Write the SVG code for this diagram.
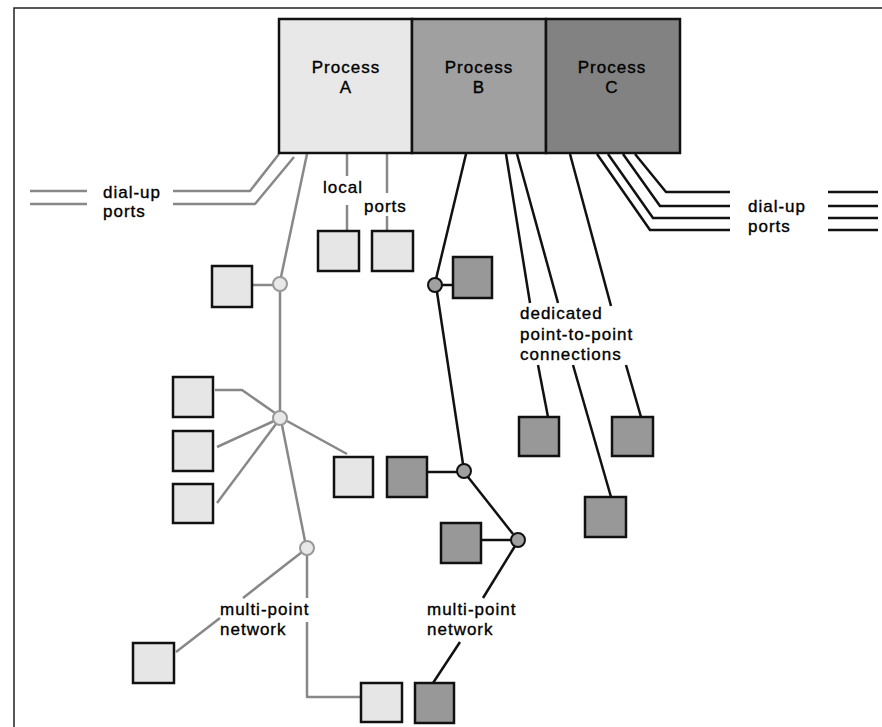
<svg xmlns="http://www.w3.org/2000/svg" width="882" height="727" viewBox="0 0 882 727">
<style>
text{font-family:"Liberation Sans",Arial,sans-serif;font-size:17px;letter-spacing:1px;fill:#000;stroke:#000;stroke-width:0.35}
.ctr{text-anchor:middle}
.proc{stroke:#111;stroke-width:2.5}
.pa{fill:#e8e8e8}
.pb{fill:#a0a0a0}
.pc{fill:#828282}
.lt{fill:#e6e6e6;stroke:#111;stroke-width:2.5}
.dk{fill:#989898;stroke:#111;stroke-width:2.5}
.ga{fill:none;stroke:#888;stroke-width:2.5;stroke-linejoin:round}
.bk{fill:none;stroke:#111;stroke-width:2.5;stroke-linejoin:round}
.hl{fill:#e8e8e8;stroke:#999;stroke-width:2}
.hd{fill:#a0a0a0;stroke:#111;stroke-width:2}
.frame{fill:none;stroke:#222;stroke-width:1.5}
</style>
<g id="frame">
<polyline class="frame" points="14,727 14,8 882,8"/>
</g>
<g id="connectors">
<polyline class="ga" points="279,154 250,191 173,191"/>
<polyline class="ga" points="294,157 255,204 173,204"/>
<line class="ga" x1="30" y1="191" x2="87" y2="191"/>
<line class="ga" x1="30" y1="204" x2="87" y2="204"/>
<line class="ga" x1="347" y1="154" x2="347" y2="176"/>
<line class="ga" x1="347" y1="205" x2="347" y2="231"/>
<line class="ga" x1="387" y1="154" x2="387" y2="193"/>
<line class="ga" x1="387" y1="216" x2="387" y2="231"/>
<line class="ga" x1="307" y1="154" x2="281" y2="277"/>
<line class="ga" x1="253" y1="285" x2="273" y2="285"/>
<line class="ga" x1="280" y1="291" x2="280" y2="411"/>
<polyline class="ga" points="215,390 242,390 275,413"/>
<line class="ga" x1="217" y1="447" x2="274" y2="421"/>
<line class="ga" x1="217" y1="503" x2="276" y2="424"/>
<line class="ga" x1="287" y1="421" x2="347" y2="454"/>
<line class="ga" x1="282" y1="425" x2="305" y2="541"/>
<line class="ga" x1="302" y1="552" x2="243" y2="598"/>
<line class="ga" x1="220" y1="618" x2="176" y2="652"/>
<line class="ga" x1="307" y1="555" x2="307" y2="598"/>
<polyline class="ga" points="307,622 307,697 361,697"/>
<line class="bk" x1="466" y1="154" x2="436" y2="279"/>
<line class="bk" x1="440" y1="285" x2="452" y2="285"/>
<line class="bk" x1="437" y1="292" x2="463" y2="464"/>
<line class="bk" x1="427" y1="472" x2="457" y2="472"/>
<line class="bk" x1="468" y1="477" x2="513" y2="534"/>
<line class="bk" x1="481" y1="540" x2="511" y2="540"/>
<line class="bk" x1="515" y1="546" x2="483" y2="598"/>
<line class="bk" x1="460" y1="642" x2="433" y2="683"/>
<line class="bk" x1="506" y1="154" x2="530" y2="303"/>
<line class="bk" x1="517" y1="154" x2="558" y2="303"/>
<line class="bk" x1="570" y1="154" x2="611" y2="306"/>
<line class="bk" x1="538" y1="365" x2="548" y2="417"/>
<line class="bk" x1="573" y1="365" x2="611" y2="497"/>
<line class="bk" x1="626" y1="365" x2="641" y2="417"/>
<polyline class="bk" points="597,154 650,230 730,230"/>
<polyline class="bk" points="608,154 653,218 730,218"/>
<polyline class="bk" points="623,154 660,206 730,206"/>
<polyline class="bk" points="635,154 666,192 730,192"/>
<line class="bk" x1="828" y1="192" x2="878" y2="192"/>
<line class="bk" x1="828" y1="206" x2="878" y2="206"/>
<line class="bk" x1="828" y1="218" x2="878" y2="218"/>
<line class="bk" x1="828" y1="230" x2="878" y2="230"/>
</g>
<g id="processA">
<rect class="proc pa" x="279" y="19" width="133" height="134"/>
<text class="ctr" x="346" y="73">Process</text>
<text class="ctr" x="346" y="93">A</text>
</g>
<g id="processB">
<rect class="proc pb" x="412" y="19" width="134" height="134"/>
<text class="ctr" x="479" y="73">Process</text>
<text class="ctr" x="479" y="93">B</text>
</g>
<g id="processC">
<rect class="proc pc" x="546" y="19" width="134" height="134"/>
<text class="ctr" x="612" y="73">Process</text>
<text class="ctr" x="612" y="93">C</text>
</g>
<g id="labels">
<text x="103" y="198">dial-up</text>
<text x="103" y="217">ports</text>
<text x="323" y="193">local</text>
<text x="364" y="212">ports</text>
<text x="748" y="212">dial-up</text>
<text x="748" y="232">ports</text>
<text x="520" y="319">dedicated</text>
<text x="520" y="340">point-to-point</text>
<text x="520" y="360">connections</text>
<text x="220" y="615">multi-point</text>
<text x="220" y="635">network</text>
<text x="427" y="615">multi-point</text>
<text x="427" y="635">network</text>
</g>
<g id="local1"><rect class="lt" x="318" y="231" width="41" height="40"/></g>
<g id="local2"><rect class="lt" x="372" y="231" width="41" height="40"/></g>
<g id="a-hub1"><circle class="hl" cx="280" cy="284" r="7"/></g>
<g id="a-t1"><rect class="lt" x="212" y="266" width="40" height="41"/></g>
<g id="a-hub2"><circle class="hl" cx="280" cy="418" r="7"/></g>
<g id="a-t2"><rect class="lt" x="173" y="377" width="40" height="40"/></g>
<g id="a-t3"><rect class="lt" x="173" y="431" width="40" height="40"/></g>
<g id="a-t4"><rect class="lt" x="173" y="484" width="40" height="39"/></g>
<g id="a-t5"><rect class="lt" x="334" y="457" width="39" height="40"/></g>
<g id="a-hub3"><circle class="hl" cx="307" cy="548" r="7"/></g>
<g id="a-t6"><rect class="lt" x="133" y="643" width="41" height="40"/></g>
<g id="a-t7"><rect class="lt" x="361" y="683" width="41" height="39"/></g>
<g id="b-hub1"><circle class="hd" cx="435" cy="285" r="7"/></g>
<g id="b-t1"><rect class="dk" x="453" y="257" width="39" height="41"/></g>
<g id="b-hub2"><circle class="hd" cx="464" cy="471" r="7"/></g>
<g id="b-t2"><rect class="dk" x="387" y="457" width="40" height="40"/></g>
<g id="b-hub3"><circle class="hd" cx="518" cy="540" r="7"/></g>
<g id="b-t3"><rect class="dk" x="441" y="523" width="40" height="40"/></g>
<g id="b-t4"><rect class="dk" x="415" y="683" width="39" height="40"/></g>
<g id="c-t1"><rect class="dk" x="519" y="417" width="40" height="39"/></g>
<g id="c-t2"><rect class="dk" x="612" y="417" width="41" height="39"/></g>
<g id="c-t3"><rect class="dk" x="585" y="497" width="41" height="40"/></g>
</svg>
